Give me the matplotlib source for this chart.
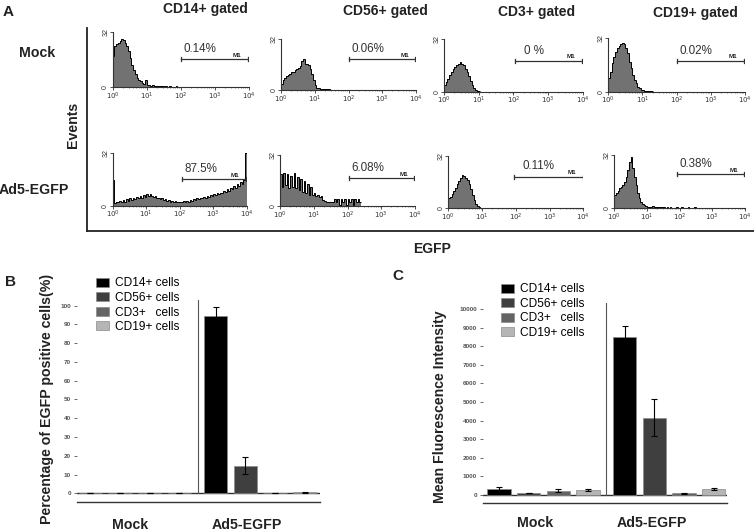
import numpy as np
import matplotlib
matplotlib.use('Agg')
import matplotlib.pyplot as plt
from matplotlib.lines import Line2D

plt.rcParams['font.family'] = ['Liberation Sans', 'DejaVu Sans']

# ---------------- data ----------------
cell_titles = ['CD14+ gated', 'CD56+ gated', 'CD3+ gated', 'CD19+ gated']
row_labels = ['Mock', 'Ad5-EGFP']
decade_labels = ['$10^{0}$', '$10^{1}$', '$10^{2}$', '$10^{3}$', '$10^{4}$']

bin_width = 0.05  # decades per histogram channel (log10 EGFP)

hist_cd14_mock = [18, 24, 25, 26, 27, 28, 27.5, 26, 24, 21, 17, 13, 10, 7.5, 5.5, 4.5, 3.5, 2.5,
                  2.2, 4.5, 1.5, 1.2, 1.0, 1.2, 0.8, 1.0, 0.6, 0.7, 0.5, 0.6, 0.4, 0.5, 0.4, 0.5,
                  0.3, 0.4, 0.3, 0.5, 0.3, 0.4, 0.3, 0.3, 0.2, 0.3, 0.2, 0.3, 0.2, 0.2, 0.3, 0.2,
                  0.2, 0.2, 0.1, 0.2, 0.1, 0.2, 0.1, 0.1, 0.2, 0.1]
hist_cd56_mock = [4, 6, 7.5, 8.5, 9.5, 10, 11, 11.5, 12.5, 13, 14, 15, 18, 19.5, 16.5, 16.5, 15.5,
                  13, 10, 6, 3, 1.5, 1.0, 0.8, 0.6, 0.5, 0.5, 0.4, 0.4, 0.3, 0.2, 0.2, 0.2, 0.2,
                  0.2, 0.2, 0.1]
hist_cd3_mock = [4, 6, 8, 10, 12, 13.5, 15, 16, 17, 18, 17, 16, 14, 12, 9.5, 6.5, 4, 2, 1, 0.4, 0.2]
hist_cd19_mock = [8, 12, 17, 21, 24, 26, 27.5, 28.5, 29, 28.5, 26, 23, 18, 14, 10, 7, 5, 3, 2,
                  1.2, 0.8, 0.6, 0.5, 0.4, 0.3, 0.2]
hist_cd14_ad5 = [16, 1.5, 2.5, 2, 3, 2.5, 3.5, 2.5, 4, 3, 4.5, 3.5, 5, 4, 5.5, 4.5, 6, 5, 6.5, 5.5,
                 7, 6, 7, 6, 5.5, 6, 4.5, 5, 4, 4.5, 3.5, 4, 3, 3.5, 2.5, 3, 2.5, 3, 2, 2.5,
                 2.5, 2, 3, 2.5, 3, 2.5, 3.5, 3, 4, 3.5, 4.5, 4, 5, 4.5, 5.5, 5, 6, 5.5, 6.5, 6,
                 7, 6.5, 7.5, 7, 8, 7.5, 9, 8.5, 10, 9, 11, 10, 12, 11, 13, 12, 14.5, 13, 16, 32]
hist_cd56_ad5 = [20, 12, 21, 13, 20, 11, 19, 12, 21, 11, 18, 10, 17, 9, 16, 8, 14, 7, 12, 7,
                 8, 6, 7, 5.5, 6.5, 4, 3, 2.7, 2.7, 2.7, 2.7, 2.7, 4.5, 2.7, 4.5, 0.5, 4.5, 2.7,
                 4.5, 0.5, 4.5, 2.7, 4.5, 0.5, 4.5, 2.7, 4.5, 2.7]
hist_cd3_ad5 = [6, 7, 8.5, 10.5, 12.5, 14.5, 16.5, 18.5, 20, 19.5, 18.5, 17, 14.5, 11.5, 8, 5,
                2.5, 1.2, 0.5, 0.2]
hist_cd19_ad5 = [8, 9, 10.5, 12, 13, 14, 16, 19, 23, 28, 31, 24, 19, 14, 9, 6, 4, 2.5, 1.8, 1.3,
                 1, 0.9, 0.8, 1.2, 0.7, 0.9, 0.6, 0.8, 0.5, 0.7, 0.5, 0.3, 0.5, 0.3, 1.0, 0.3,
                 0.4, 0.3, 0.8, 0.3, 0.3, 0.9, 0.3, 0.3, 0.2, 0.8, 0.2, 0.2, 0.2, 0.7, 0.2, 0.1]

hists_mock = [hist_cd14_mock, hist_cd56_mock, hist_cd3_mock, hist_cd19_mock]
hists_ad5 = [hist_cd14_ad5, hist_cd56_ad5, hist_cd3_ad5, hist_cd19_ad5]

gate_pct_mock = ['0.14%', '0.06%', '0 %', '0.02%']
gate_pct_ad5 = ['87.5%', '6.08%', '0.11%', '0.38%']
gate_start_mock = [2.01, 2.02, 2.05, 2.01]
gate_start_ad5 = [2.06, 2.03, 1.96, 1.93]
gate_level_mock = [16.3, 19.3, 18.6, 18.4]
gate_level_ad5 = [16.1, 17.4, 19.2, 20.4]

bar_groups = ['Mock', 'Ad5-EGFP']
bar_series = ['CD14+ cells', 'CD56+ cells', 'CD3+   cells', 'CD19+ cells']
pct_mock = [0.0, 0.25, 0.25, 0.3]
pct_mock_err = [0.0, 0.05, 0.05, 0.05]
pct_ad5 = [94.4, 14.7, 0.25, 0.45]
pct_ad5_err = [4.7, 4.5, 0.05, 0.3]
mfi_mock = [300, 110, 230, 250]
mfi_mock_err = [150, 20, 80, 50]
mfi_ad5 = [8480, 4150, 100, 300]
mfi_ad5_err = [600, 1000, 20, 50]

# ---------------- styles ----------------
W, H = 754, 531
fig = plt.figure(figsize=(W / 100, H / 100), dpi=100)

def rect(l, t, r, b):
    return [l / W, 1 - b / H, (r - l) / W, (b - t) / H]

def fx(x):
    return x / W

def fy(y):
    return 1 - y / H

bar_colors = ['#000000', '#3f3f3f', '#646464', '#b5b5b5']
hist_fill = '#727272'
txt_dark = '#222222'

hist_rects_mock = [(112.7, 32.3, 248.7, 87.3), (281, 39, 416, 90),
                   (444, 39, 582.7, 91.7), (608.3, 38.3, 745, 91.7)]
hist_rects_ad5 = [(112.7, 153.3, 246.7, 205.7), (280, 155, 415, 206),
                  (448.3, 155.7, 583.3, 208.3), (614.3, 155, 745, 208.3)]
pct_text_shift = [0.07, 0.07, 0.25, 0.07]


def draw_hist(r, counts, gate_lbl, g0, gy, shift):
    ax = fig.add_axes(rect(*r))
    edges = np.arange(len(counts) + 1) * bin_width
    ax.stairs(counts, edges, fill=True, color=hist_fill, lw=0)
    ax.stairs(counts, edges, color='black', lw=0.7, baseline=None)
    ax.set_xlim(0, 4)
    ax.set_ylim(0, 32)
    for s in ['top', 'right']:
        ax.spines[s].set_visible(False)
    for s in ['left', 'bottom']:
        ax.spines[s].set_color('#333333')
        ax.spines[s].set_linewidth(0.8)
    ax.set_xticks(range(5))
    ax.set_xticklabels(decade_labels, fontsize=5, color='#333333')
    minors = [k + np.log10(m) for k in range(4) for m in range(2, 10)]
    ax.set_xticks(minors, minor=True)
    ax.tick_params(axis='x', which='major', length=2, width=0.6, pad=0.5, colors='#333333')
    ax.tick_params(axis='x', which='minor', length=1, width=0.4, colors='#333333')
    ax.set_yticks([0, 32])
    ax.set_yticklabels(['0', '32'], fontsize=5, rotation=90, va='center', color='#333333')
    ax.tick_params(axis='y', length=2, width=0.6, pad=0.5, colors='#333333')
    g1 = 3.98
    ax.plot([g0, g1], [gy, gy], color='#333333', lw=0.9)
    ax.plot([g0, g0], [gy - 1.2, gy + 1.2], color='#333333', lw=0.9)
    ax.plot([g1, g1], [gy - 1.2, gy + 1.2], color='#333333', lw=0.9)
    ax.text(g0 + shift, gy + 2.6, gate_lbl, fontsize=8.4, color='#333333', va='bottom', ha='left')
    ax.text(g1 - 0.32, gy + 1.0, 'M1', fontsize=4.5, color='#222222', va='bottom', ha='center',
            fontweight='bold')
    return ax


for i in range(4):
    draw_hist(hist_rects_mock[i], hists_mock[i], gate_pct_mock[i], gate_start_mock[i],
              gate_level_mock[i], pct_text_shift[i])
    draw_hist(hist_rects_ad5[i], hists_ad5[i], gate_pct_ad5[i], gate_start_ad5[i],
              gate_level_ad5[i], pct_text_shift[i])

# frame around panel A
fig.add_artist(Line2D([fx(87), fx(87)], [fy(28), fy(231)], color='#222222', lw=1.3))
fig.add_artist(Line2D([fx(87), fx(754)], [fy(231), fy(231)], color='#222222', lw=1.3))

# panel A texts
title_x = [205, 385, 537, 695]
title_y = [9, 11, 12, 13]
for t, x, y in zip(cell_titles, title_x, title_y):
    fig.text(fx(x), fy(y), t, fontsize=10, fontweight='bold', ha='center', va='center',
             color=txt_dark)
fig.text(fx(37.5), fy(53), row_labels[0], fontsize=10.2, fontweight='bold', ha='center',
         va='center', color=txt_dark)
fig.text(fx(34), fy(190), row_labels[1], fontsize=10.2, fontweight='bold', ha='center',
         va='center', color=txt_dark)
fig.text(fx(73), fy(124.5), 'Events', fontsize=10.2, fontweight='bold', ha='center',
         va='center', rotation=90, color=txt_dark)
fig.text(fx(432), fy(249), 'EGFP', fontsize=10, fontweight='bold', ha='center', va='center',
         color=txt_dark)
fig.text(fx(8), fy(12), 'A', fontsize=11, fontweight='bold', ha='center', va='center',
         color=txt_dark)
fig.text(fx(11), fy(282), 'B', fontsize=11, fontweight='bold', ha='center', va='center',
         color=txt_dark)
fig.text(fx(398), fy(276), 'C', fontsize=11, fontweight='bold', ha='center', va='center',
         color=txt_dark)

# ---------------- bar charts ----------------
group_offset = 4.23
bar_w = 0.79


def draw_bars(r, xlim, ylim, mock, mock_err, ad5, ad5_err, yticks, ylabel, ylabel_xy,
              xlabel_xy, legend_xy):
    ax = fig.add_axes(rect(*r))
    handles = []
    for s in range(4):
        xs = [s, group_offset + s]
        vals = [mock[s], ad5[s]]
        errs = [mock_err[s], ad5_err[s]]
        b = ax.bar(xs, vals, width=bar_w, color=bar_colors[s], edgecolor='#8a8a8a', lw=0.5,
                   label=bar_series[s], zorder=2)
        ax.errorbar(xs, vals, yerr=errs, fmt='none', ecolor='black', elinewidth=0.8,
                    capsize=2, capthick=0.8, zorder=3)
        handles.append(b)
    ax.set_xlim(*xlim)
    ax.set_ylim(*ylim)
    for s in ['top', 'right', 'left']:
        ax.spines[s].set_visible(False)
    ax.spines['bottom'].set_color('#333333')
    ax.spines['bottom'].set_linewidth(1.0)
    ax.axhline(0, color='#333333', lw=1.0, zorder=1)
    sep = (3 + group_offset) / 2
    y0frac = (0 - ylim[0]) / (ylim[1] - ylim[0])
    ax.axvline(sep, ymin=y0frac, ymax=1, color='#555555', lw=0.8)
    ax.set_xticks([])
    ax.set_yticks(yticks)
    ax.set_yticklabels([str(v) for v in yticks], fontsize=4.6, color='#444444',
                       fontweight='bold')
    ax.tick_params(axis='y', length=2.5, width=0.6, pad=1.5, colors='#555555')
    fig.text(fx(ylabel_xy[0]), fy(ylabel_xy[1]), ylabel, rotation=90, fontsize=10.2,
             fontweight='bold', ha='center', va='center', color=txt_dark)
    for g, (x, y) in zip(bar_groups, xlabel_xy):
        fig.text(fx(x), fy(y), g, fontsize=10.2, fontweight='bold', ha='center', va='center',
                 color=txt_dark)
    ax.legend(handles=handles, labels=bar_series, loc='upper left',
              bbox_to_anchor=(fx(legend_xy[0]), fy(legend_xy[1])),
              bbox_transform=fig.transFigure, frameon=False, fontsize=8.6,
              handlelength=1.1, handleheight=0.75, handletextpad=0.5, labelspacing=0.21,
              borderpad=0, borderaxespad=0)
    return ax


draw_bars((76.7, 300, 320, 501.7), (-0.466, 7.75), (-4.48, 103.0),
          pct_mock, pct_mock_err, pct_ad5, pct_ad5_err, list(range(0, 101, 10)),
          'Percentage of EGFP positive cells(%)', (46.7, 399),
          [(130, 525), (247, 525)], (96.2, 277.5))

draw_bars((482.7, 302.7, 726.7, 503.3), (-0.55, 7.67), (-446, 10339),
          mfi_mock, mfi_mock_err, mfi_ad5, mfi_ad5_err, list(range(0, 10001, 1000)),
          'Mean Fluorescence Intensity', (440, 407),
          [(535, 523), (652, 523)], (501.2, 283.3))

fig.savefig('out.png', dpi=100)
